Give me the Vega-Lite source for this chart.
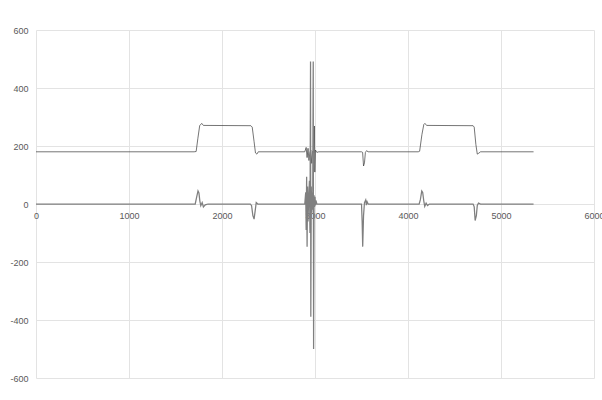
{
  "$schema": "https://vega.github.io/schema/vega-lite/v6.json",
  "width": 558,
  "height": 348,
  "autosize": "none",
  "padding": {"left": 36, "top": 30, "right": 8, "bottom": 22},
  "background": "white",
  "config": {
    "view": {"stroke": null},
    "axis": {"labelFont": "Liberation Sans", "labelFontSize": 9, "labelColor": "#595959", "gridColor": "#e3e3e3", "gridWidth": 1, "ticks": false, "domain": false, "title": null, "labelExpr": "'' + datum.value"}
  },
  "datasets": {
    "top": [
      {"x": 0, "y": 180}, {"x": 1700, "y": 180}, {"x": 1722, "y": 181}, {"x": 1740, "y": 225}, {"x": 1760, "y": 270}, {"x": 1782, "y": 278}, {"x": 1800, "y": 271}, {"x": 2310, "y": 270},
      {"x": 2325, "y": 265}, {"x": 2345, "y": 215}, {"x": 2360, "y": 176}, {"x": 2375, "y": 172}, {"x": 2390, "y": 180}, {"x": 2890, "y": 180},
      {"x": 2905, "y": 195}, {"x": 2915, "y": 160}, {"x": 2925, "y": 192}, {"x": 2935, "y": 150}, {"x": 2945, "y": 178}, {"x": 2955, "y": 186}, {"x": 2965, "y": 140}, {"x": 2975, "y": 182}, {"x": 2985, "y": 176},
      {"x": 2993, "y": 269}, {"x": 2998, "y": 110}, {"x": 3005, "y": 186}, {"x": 3020, "y": 178}, {"x": 3040, "y": 180},
      {"x": 3500, "y": 180}, {"x": 3512, "y": 178}, {"x": 3522, "y": 131}, {"x": 3532, "y": 142}, {"x": 3542, "y": 178}, {"x": 3555, "y": 184}, {"x": 3570, "y": 180},
      {"x": 4110, "y": 180}, {"x": 4125, "y": 182}, {"x": 4150, "y": 240}, {"x": 4170, "y": 274}, {"x": 4182, "y": 278}, {"x": 4200, "y": 271}, {"x": 4700, "y": 270},
      {"x": 4712, "y": 265}, {"x": 4730, "y": 205}, {"x": 4745, "y": 172}, {"x": 4760, "y": 175}, {"x": 4780, "y": 180}, {"x": 5350, "y": 180}
    ],
    "bottom": [
      {"x": 0, "y": 0}, {"x": 1712, "y": 0}, {"x": 1725, "y": 20}, {"x": 1742, "y": 45}, {"x": 1752, "y": 38}, {"x": 1762, "y": 10}, {"x": 1772, "y": -6}, {"x": 1787, "y": 5}, {"x": 1800, "y": -10}, {"x": 1820, "y": -3}, {"x": 1850, "y": 0},
      {"x": 2305, "y": 0}, {"x": 2318, "y": -6}, {"x": 2332, "y": -40}, {"x": 2345, "y": -52}, {"x": 2358, "y": -20}, {"x": 2368, "y": 5}, {"x": 2385, "y": 0},
      {"x": 2890, "y": 0}, {"x": 2900, "y": 40}, {"x": 2905, "y": -90}, {"x": 2910, "y": 94}, {"x": 2915, "y": -147}, {"x": 2920, "y": 60}, {"x": 2925, "y": -60}, {"x": 2932, "y": 20}, {"x": 2940, "y": 80}, {"x": 2946, "y": -100},
      {"x": 2952, "y": 491}, {"x": 2955, "y": -389}, {"x": 2960, "y": 60}, {"x": 2965, "y": -30}, {"x": 2970, "y": 40}, {"x": 2975, "y": -20}, {"x": 2981, "y": 491}, {"x": 2985, "y": -500},
      {"x": 2990, "y": 30}, {"x": 2995, "y": -10}, {"x": 3000, "y": 25}, {"x": 3005, "y": -5}, {"x": 3010, "y": 12}, {"x": 3020, "y": 0},
      {"x": 3500, "y": 0}, {"x": 3507, "y": -60}, {"x": 3513, "y": -147}, {"x": 3522, "y": -40}, {"x": 3532, "y": 5}, {"x": 3545, "y": 14}, {"x": 3552, "y": -4}, {"x": 3560, "y": 8}, {"x": 3572, "y": 0},
      {"x": 4120, "y": 0}, {"x": 4133, "y": 15}, {"x": 4148, "y": 45}, {"x": 4158, "y": 40}, {"x": 4170, "y": 10}, {"x": 4180, "y": -8}, {"x": 4195, "y": 3}, {"x": 4210, "y": -5}, {"x": 4230, "y": 0},
      {"x": 4700, "y": 0}, {"x": 4712, "y": -10}, {"x": 4722, "y": -57}, {"x": 4735, "y": -40}, {"x": 4745, "y": -5}, {"x": 4758, "y": 3}, {"x": 4780, "y": 0}, {"x": 5350, "y": 0}
    ]
  },
  "layer": [
    {
      "data": {"name": "top"},
      "mark": {"type": "line", "color": "#3a3a3a", "strokeWidth": 0.7, "clip": true},
      "encoding": {
        "x": {"field": "x", "type": "quantitative", "scale": {"domain": [0, 6000], "nice": false}, "axis": {"values": [0, 1000, 2000, 3000, 4000, 5000, 6000], "offset": -174, "labelPadding": 7, "labelFlush": false, "labelOverlap": false, "grid": true}},
        "y": {"field": "y", "type": "quantitative", "scale": {"domain": [-600, 600], "nice": false}, "axis": {"values": [-600, -400, -200, 0, 200, 400, 600], "labelPadding": 8, "grid": true}}
      }
    },
    {
      "data": {"name": "bottom"},
      "mark": {"type": "line", "color": "#7f7f7f", "strokeWidth": 1.25, "clip": true},
      "encoding": {
        "x": {"field": "x", "type": "quantitative"},
        "y": {"field": "y", "type": "quantitative"}
      }
    }
  ]
}
